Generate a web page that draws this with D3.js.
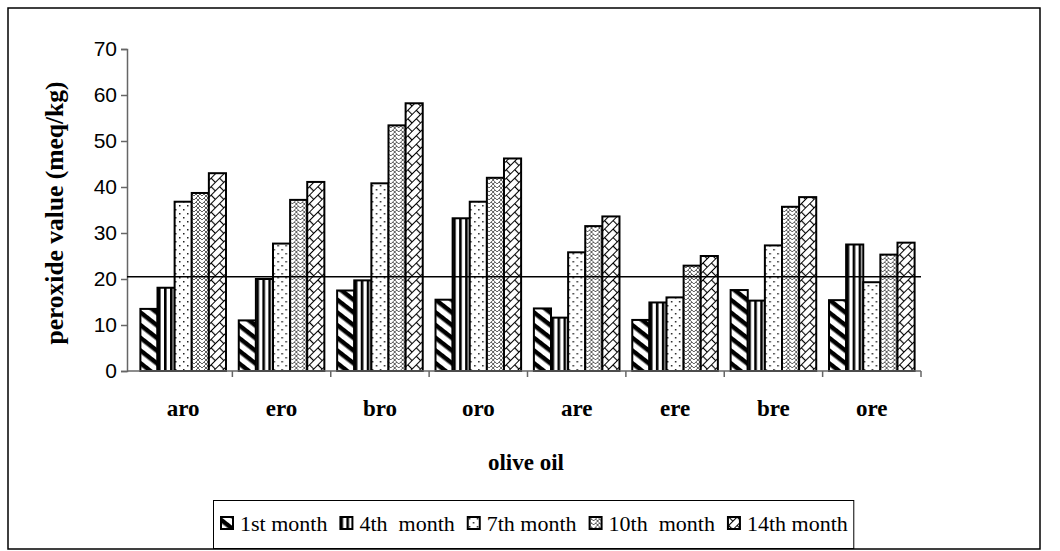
<!DOCTYPE html>
<html>
<head>
<meta charset="utf-8">
<script src="https://cdn.jsdelivr.net/npm/d3@7"></script>
<style>
  body { margin: 0; background: #fff; }
  svg { display: block; }
</style>
</head>
<body>
<svg id="chart" width="1060" height="551"></svg>
<script>
// olive oil samples and storage months
const categories = ["aro", "ero", "bro", "oro", "are", "ere", "bre", "ore"];
const seriesNames = ["1st month", "4th  month", "7th month", "10th  month", "14th month"];
const month1 = [13.5, 11.0, 17.5, 15.5, 13.6, 11.1, 17.6, 15.4];
const month4 = [18.1, 20.0, 19.7, 33.2, 11.6, 14.9, 15.3, 27.5];
const month7 = [36.8, 27.7, 40.8, 36.8, 25.8, 16.0, 27.3, 19.3];
const month10 = [38.7, 37.2, 53.4, 42.0, 31.5, 22.9, 35.7, 25.3];
const month14 = [43.0, 41.1, 58.2, 46.2, 33.6, 25.0, 37.8, 27.9];
const yTicks = [0, 10, 20, 30, 40, 50, 60, 70];
const limitValue = 20.5;

const seriesValues = [month1, month4, month7, month10, month14];
const patternIds = ["pDiag", "pVert", "pDots", "pWeave", "pBrick"];

const svg = d3.select("#chart");
const margin = { top: 49, right: 139, bottom: 180, left: 127 };
const width = 1060, height = 551;

// outer frame
svg.append("rect")
  .attr("x", 8).attr("y", 8)
  .attr("width", 1032).attr("height", 541)
  .attr("fill", "none").attr("stroke", "#000").attr("stroke-width", 1.5);

// patterns
const defs = svg.append("defs");

const p1 = defs.append("pattern").attr("id", "pDiag")
  .attr("patternUnits", "userSpaceOnUse").attr("width", 10).attr("height", 10)
  .attr("patternTransform", "rotate(38)");
p1.append("rect").attr("width", 10).attr("height", 10).attr("fill", "#fff");
p1.append("rect").attr("width", 10).attr("height", 4.5).attr("fill", "#000");

const p2 = defs.append("pattern").attr("id", "pVert")
  .attr("patternUnits", "userSpaceOnUse").attr("width", 6).attr("height", 6);
p2.append("rect").attr("width", 6).attr("height", 6).attr("fill", "#fff");
p2.append("rect").attr("width", 2.6).attr("height", 6).attr("fill", "#000");

const p3 = defs.append("pattern").attr("id", "pDots")
  .attr("patternUnits", "userSpaceOnUse").attr("width", 8).attr("height", 8);
p3.append("rect").attr("width", 8).attr("height", 8).attr("fill", "#fff");
p3.append("rect").attr("x", 1).attr("y", 1).attr("width", 1.5).attr("height", 1.5).attr("fill", "#222");
p3.append("rect").attr("x", 5).attr("y", 5).attr("width", 1.5).attr("height", 1.5).attr("fill", "#222");

const p4 = defs.append("pattern").attr("id", "pWeave")
  .attr("patternUnits", "userSpaceOnUse").attr("width", 8).attr("height", 8);
p4.append("rect").attr("width", 8).attr("height", 8).attr("fill", "#fff");
p4.append("path")
  .attr("d", "M0,0 L4,4 L8,0 M0,4 L4,8 L8,4 M2,2 L0,4 M6,2 L8,4 M2,6 L0,8 M6,6 L8,8")
  .attr("fill", "none").attr("stroke", "#444").attr("stroke-width", 0.85);

const p5 = defs.append("pattern").attr("id", "pBrick")
  .attr("patternUnits", "userSpaceOnUse").attr("width", 12).attr("height", 12)
  .attr("patternTransform", "rotate(-45)");
p5.append("rect").attr("width", 12).attr("height", 12).attr("fill", "#fff");
p5.append("path")
  .attr("d", "M0,0.5 L12,0.5 M0,6.5 L12,6.5 M0.5,0.5 L0.5,6.5 M6.5,6.5 L6.5,12")
  .attr("fill", "none").attr("stroke", "#000").attr("stroke-width", 1.2);

// scales
const x0 = d3.scaleBand()
  .domain(categories)
  .range([margin.left + 7, width - margin.right]);

const x1 = d3.scaleBand()
  .domain(d3.range(seriesNames.length))
  .range([x0.bandwidth() * 0.065, x0.bandwidth() * 0.935]);

const y = d3.scaleLinear()
  .domain([0, 70])
  .range([height - margin.bottom, margin.top]);

// bars
const groups = svg.append("g")
  .selectAll("g")
  .data(categories)
  .join("g")
  .attr("transform", d => `translate(${x0(d)},0)`);

groups.selectAll("rect")
  .data((c, i) => seriesValues.map((s, k) => ({ k: k, v: s[i] })))
  .join("rect")
  .attr("x", d => x1(d.k))
  .attr("y", d => y(d.v))
  .attr("width", x1.bandwidth())
  .attr("height", d => y(0) - y(d.v))
  .attr("fill", d => `url(#${patternIds[d.k]})`)
  .attr("stroke", "#000")
  .attr("stroke-width", 2);

// y axis
const yAxis = svg.append("g")
  .attr("transform", `translate(${margin.left},0)`)
  .call(d3.axisLeft(y).tickValues(yTicks).tickSize(6).tickPadding(4));
yAxis.select(".domain").attr("stroke", "#666").attr("stroke-width", 1.5);
yAxis.selectAll(".tick line").attr("stroke", "#666").attr("stroke-width", 1.5);
yAxis.selectAll("text")
  .attr("font-family", "Liberation Sans, Arial, sans-serif")
  .attr("font-size", 21).attr("fill", "#000");

// x axis: ticks at category boundaries
const xAxis = svg.append("g")
  .attr("transform", `translate(0,${y(0)})`);
xAxis.append("line")
  .attr("x1", margin.left).attr("x2", x0.range()[1])
  .attr("stroke", "#666").attr("stroke-width", 1.5);
xAxis.selectAll(".bound")
  .data(categories)
  .join("line")
  .attr("class", "bound")
  .attr("x1", d => x0(d) + x0.bandwidth())
  .attr("x2", d => x0(d) + x0.bandwidth())
  .attr("y1", 0).attr("y2", 6)
  .attr("stroke", "#666").attr("stroke-width", 1.5);

svg.append("g").selectAll("text")
  .data(categories)
  .join("text")
  .attr("x", d => x0(d) + x0.bandwidth() / 2)
  .attr("y", 416)
  .attr("text-anchor", "middle")
  .attr("font-family", "Liberation Serif, Times New Roman, serif")
  .attr("font-weight", "bold")
  .attr("font-size", 23)
  .text(d => d);

// limit line
svg.append("line")
  .attr("x1", margin.left).attr("x2", x0.range()[1])
  .attr("y1", y(limitValue)).attr("y2", y(limitValue))
  .attr("stroke", "#000").attr("stroke-width", 1.5);

// axis titles
svg.append("text")
  .attr("x", (margin.left + x0.range()[1]) / 2 + 2)
  .attr("y", 470)
  .attr("text-anchor", "middle")
  .attr("font-family", "Liberation Serif, Times New Roman, serif")
  .attr("font-weight", "bold").attr("font-size", 23)
  .text("olive oil");

svg.append("text")
  .attr("transform", `translate(63,${(y(0) + y(70)) / 2 + 3}) rotate(-90)`)
  .attr("text-anchor", "middle")
  .attr("font-family", "Liberation Serif, Times New Roman, serif")
  .attr("font-weight", "bold").attr("font-size", 25.5)
  .text("peroxide value (meq/kg)");

// legend
const legend = svg.append("g");
const legendBox = legend.append("rect")
  .attr("x", 213.5).attr("y", 500.5)
  .attr("height", 48)
  .attr("fill", "#fff").attr("stroke", "#000").attr("stroke-width", 1);

let cursor = 221;
seriesNames.forEach((name, i) => {
  const g = legend.append("g").attr("transform", `translate(${cursor},517)`);
  g.append("rect")
    .attr("width", 12).attr("height", 12)
    .attr("fill", `url(#${patternIds[i]})`)
    .attr("stroke", "#000").attr("stroke-width", 2);
  const t = g.append("text")
    .attr("x", 19).attr("y", 14)
    .attr("font-family", "Liberation Serif, Times New Roman, serif")
    .attr("font-size", 22)
    .style("white-space", "pre")
    .text(name);
  cursor += 19 + t.node().getComputedTextLength() + 13;
});
legendBox.attr("width", cursor - 13 + 6 - 213.5);
</script>
</body>
</html>
